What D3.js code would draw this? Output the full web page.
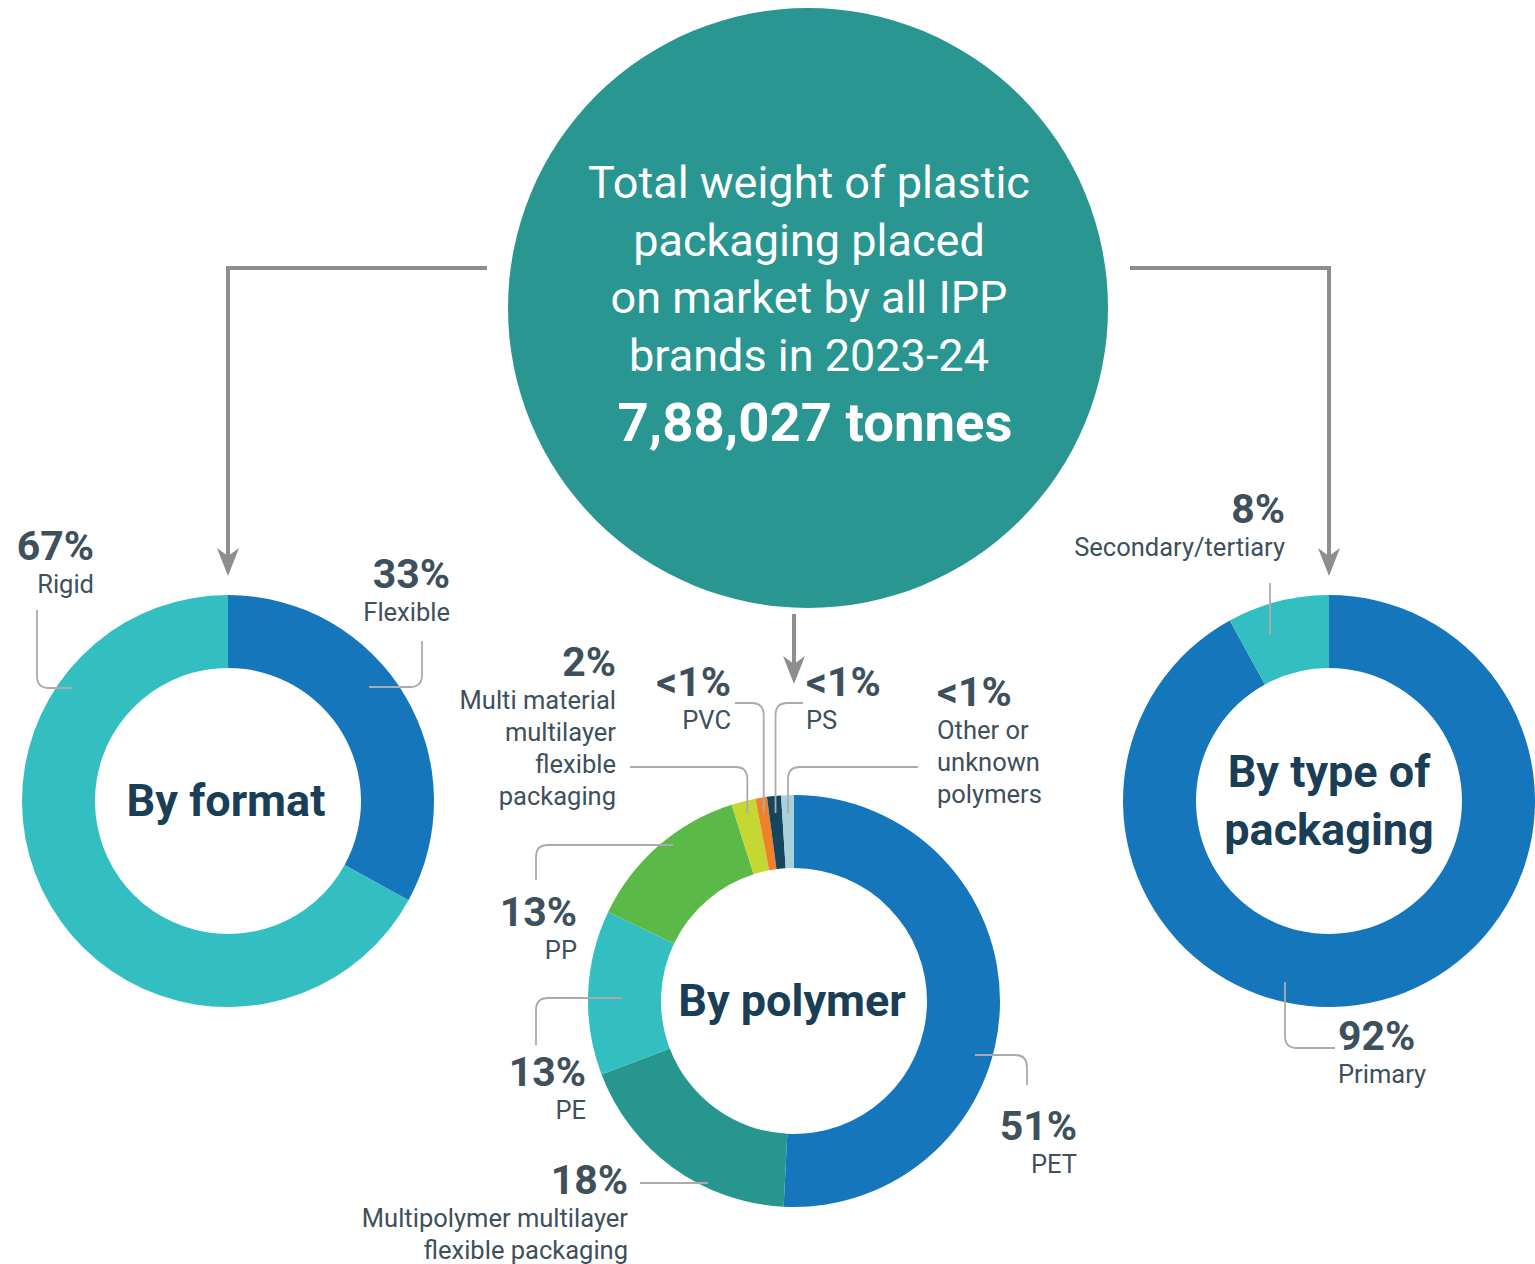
<!DOCTYPE html>
<html><head><meta charset="utf-8">
<script src="https://cdn.jsdelivr.net/npm/d3@7"></script>
<style>html,body{margin:0;padding:0;background:#fff;}svg{display:block;}</style>
</head><body>
<svg id="chart" width="1535" height="1264"></svg>
<script>
// ---- data ----
const titleLines = ["Total weight of plastic", "packaging placed", "on market by all IPP", "brands in 2023-24"];
const totalLabel = "7,88,027 tonnes";

const formatCats = ["Flexible", "Rigid"];
const formatValues = [33, 67];
const formatPct = ["33%", "67%"];

const typeCats = ["Primary", "Secondary/tertiary"];
const typeValues = [92, 8];
const typePct = ["92%", "8%"];

const polymerCats = ["PET", "Multipolymer multilayer flexible packaging", "PE", "PP",
  "Multi material multilayer flexible packaging", "PVC", "PS", "Other or unknown polymers"];
const polymerValues = [50.8, 18.4, 12.9, 13.0, 1.9, 0.9, 1.1, 1.0];
const polymerPct = ["51%", "18%", "13%", "13%", "2%", "<1%", "<1%", "<1%"];

// ---- styles ----
const C = {
  blue: "#1576BB", teal: "#33BEC2", dteal: "#26968F", green: "#5BB947",
  lime: "#C5D733", orange: "#F0812A", navy: "#16455E", lblue: "#A7D2DA",
  circle: "#2A9691", text: "#3D505C", title: "#1A3E56", arrow: "#8E8E8E", leader: "#ABABAB"
};
const formatColors = [C.blue, C.teal];
const typeColors = [C.blue, C.teal];
const polymerColors = [C.blue, C.dteal, C.teal, C.green, C.lime, C.orange, C.navy, C.lblue];

const svg = d3.select("#chart");
const FONT = "Roboto, 'Open Sans', sans-serif";
const R = 206, r = 133;

function donut(cx, cy, values, colors, startAngle) {
  const pie = d3.pie().sort(null).value(d => d).startAngle(startAngle).endAngle(startAngle + 2 * Math.PI);
  const arcs = pie(values);
  const arc = d3.arc().innerRadius(r).outerRadius(R);
  const g = svg.append("g").attr("transform", `translate(${cx},${cy})`);
  g.selectAll("path").data(arcs).join("path").attr("d", arc).attr("fill", (d, i) => colors[i]);
  return arcs;
}

// ---- big circle ----
svg.append("circle").attr("cx", 808).attr("cy", 308).attr("r", 300).attr("fill", C.circle);
const tg = svg.append("g").attr("font-family", FONT).attr("fill", "#fff").attr("text-anchor", "middle");
titleLines.forEach((t, i) => {
  tg.append("text").attr("x", 809).attr("y", 198 + i * 57.5).attr("font-size", 45).attr("font-weight", 400).text(t);
});
tg.append("text").attr("x", 815).attr("y", 441).attr("font-size", 54.5).attr("font-weight", 700).text(totalLabel);

// ---- arrows ----
const ag = svg.append("g");
function arrow(pathD, tipX, tipY) {
  ag.append("path").attr("d", pathD).attr("fill", "none").attr("stroke", C.arrow).attr("stroke-width", 4);
  ag.append("path").attr("d", `M${tipX},${tipY} L${tipX - 11},${tipY - 28} L${tipX},${tipY - 20} L${tipX + 11},${tipY - 28} Z`)
    .attr("fill", C.arrow);
}
arrow("M487,268 H228 V558", 228, 576);
arrow("M1130,268 H1329 V558", 1329, 576);
arrow("M794,614 V666", 794, 684);

// ---- donuts ----
const fmt = { cx: 228, cy: 801 };
const typ = { cx: 1329, cy: 801 };
const pol = { cx: 794, cy: 1001 };
donut(fmt.cx, fmt.cy, formatValues, formatColors, 0);
donut(typ.cx, typ.cy, typeValues, typeColors, 0);
const polArcs = donut(pol.cx, pol.cy, polymerValues, polymerColors, 0);

// centre titles
const ct = svg.append("g").attr("font-family", FONT).attr("font-weight", 700).attr("fill", C.title)
  .attr("text-anchor", "middle").attr("font-size", 45);
ct.append("text").attr("x", fmt.cx - 2).attr("y", 816).text("By format");
ct.append("text").attr("x", pol.cx - 2).attr("y", 1016).text("By polymer");
ct.append("text").attr("x", typ.cx).attr("y", 787).text("By type of");
ct.append("text").attr("x", typ.cx).attr("y", 845).text("packaging");

// ---- leaders ----
const lg = svg.append("g").attr("fill", "none").attr("stroke", C.leader).attr("stroke-width", 1.8);
function leader(pts, rr = 12) {
  if (pts.length === 2) { lg.append("path").attr("d", `M${pts[0]} L${pts[1]}`); return; }
  const [p0, p1, p2] = pts;
  const d01 = [Math.sign(p1[0] - p0[0]), Math.sign(p1[1] - p0[1])];
  const d12 = [Math.sign(p2[0] - p1[0]), Math.sign(p2[1] - p1[1])];
  const a = [p1[0] - d01[0] * rr, p1[1] - d01[1] * rr];
  const b = [p1[0] + d12[0] * rr, p1[1] + d12[1] * rr];
  lg.append("path").attr("d", `M${p0} L${a} Q${p1} ${b} L${p2}`);
}
function arcPoint(c, a, rad) { return [c.cx + rad * Math.sin(a), c.cy - rad * Math.cos(a)]; }
function midX(i) { const d = polArcs[i]; return arcPoint(pol, (d.startAngle + d.endAngle) / 2, 190); }

leader([[72, 688], [37, 688], [37, 610]]);
leader([[369, 687], [422, 687], [422, 641]]);
leader([[1270, 635], [1270, 583]]);
leader([[1335, 1048], [1285, 1048], [1285, 982]]);
leader([[975, 1055], [1027, 1055], [1027, 1085]]);
leader([[708, 1183], [640, 1183]]);
leader([[622, 998], [536, 998], [536, 1045]]);
leader([[673, 845], [536, 845], [536, 880]]);
{ const p = midX(4); leader([[p[0], 813], [p[0], 767], [630, 767]]); }
{ const p = midX(5); leader([[p[0], 813], [p[0], 703], [735, 703]]); }
{ const p = midX(6); leader([[p[0], 813], [p[0], 703], [803, 703]]); }
{ const p = midX(7); leader([[p[0], 813], [p[0], 767], [918, 767]]); }

// ---- labels ----
const lab = svg.append("g").attr("font-family", FONT).attr("fill", C.text);
function label(x, y, anchor, pct, lines) {
  const g = lab.append("g").attr("text-anchor", anchor);
  g.append("text").attr("x", x).attr("y", y - 2).attr("font-size", 41).attr("font-weight", 700).text(pct);
  lines.forEach((t, i) => g.append("text").attr("x", x).attr("y", y + 31 + i * 32)
    .attr("font-size", 25.5).attr("font-weight", 400).text(t));
}
label(94, 562, "end", formatPct[1], [formatCats[1]]);
label(450, 590, "end", formatPct[0], [formatCats[0]]);
label(1285, 525, "end", typePct[1], [typeCats[1]]);
label(1338, 1052, "start", typePct[0], [typeCats[0]]);
label(1077, 1142, "end", polymerPct[0], [polymerCats[0]]);
label(628, 1196, "end", polymerPct[1], ["Multipolymer multilayer", "flexible packaging"]);
label(586, 1088, "end", polymerPct[2], [polymerCats[2]]);
label(577, 928, "end", polymerPct[3], [polymerCats[3]]);
label(616, 678, "end", polymerPct[4], ["Multi material", "multilayer", "flexible", "packaging"]);
label(731, 698, "end", polymerPct[5], [polymerCats[5]]);
label(806, 698, "start", polymerPct[6], [polymerCats[6]]);
label(937, 708, "start", polymerPct[7], ["Other or", "unknown", "polymers"]);
</script>
</body></html>
